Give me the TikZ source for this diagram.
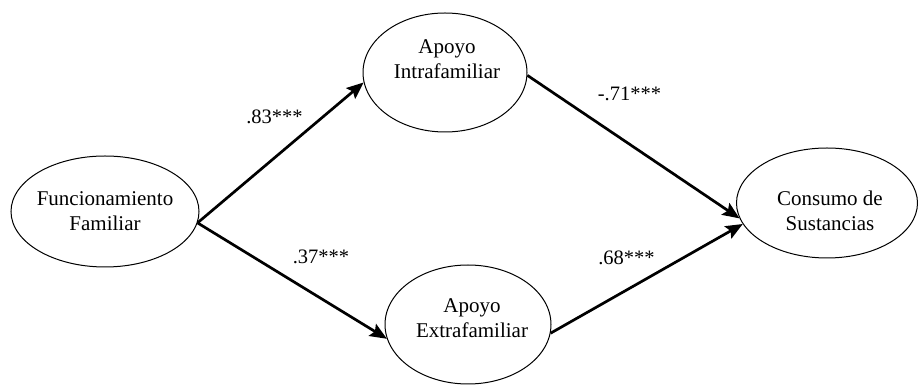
\documentclass[tikz,border=0pt]{standalone}
\usepackage{fontspec}
\setmainfont{Liberation Serif}
\usetikzlibrary{shapes.geometric,arrows.meta}

\begin{document}
\begin{tikzpicture}[x=1pt, y=1pt,
  latent/.style={ellipse, draw, line width=1pt, inner sep=0pt},
  vname/.style={align=center, inner sep=0pt, font=\fontsize{21}{25}\selectfont},
  effect/.style={line width=2.7pt, -{Stealth[length=17pt,width=14pt,inset=3pt]}},
  coef/.style={inner sep=0pt, font=\fontsize{20.5}{24}\selectfont}]
  \useasboundingbox (0,0) rectangle (918,385);
  % latent variables
  \node[latent, minimum width=188pt, minimum height=111pt] (fam)   at (105,173.5) {};
  \node[latent, minimum width=164pt, minimum height=119pt] (intra) at (445,312.5) {};
  \node[latent, minimum width=166pt, minimum height=119pt] (extra) at (468,60.5) {};
  \node[latent, minimum width=181pt, minimum height=110pt] (cons)  at (827,182) {};
  \node[vname] (fam-t)   at (105,173.5) {Funcionamiento\\Familiar};
  \node[vname] (intra-t) at (447,326)   {Apoyo\\Intrafamiliar};
  \node[vname] (extra-t) at (472,67)    {Apoyo\\Extrafamiliar};
  \node[vname] (cons-t)  at (830,174)   {Consumo de\\Sustancias};
  % paths
  \draw[effect] (fam.-7)   -- (intra.187);
  \draw[effect] (fam.-7)   -- (extra.190);
  \draw[effect] (intra.-2) -- (cons.190);
  \draw[effect] (extra.-6) -- (cons.194);
  % coefficients
  \node[coef] (c1) at (274.5,268) {.83***};
  \node[coef] (c2) at (321,128)   {.37***};
  \node[coef] (c3) at (629.5,291) {-.71***};
  \node[coef] (c4) at (626.5,127) {.68***};
\end{tikzpicture}
\end{document}
